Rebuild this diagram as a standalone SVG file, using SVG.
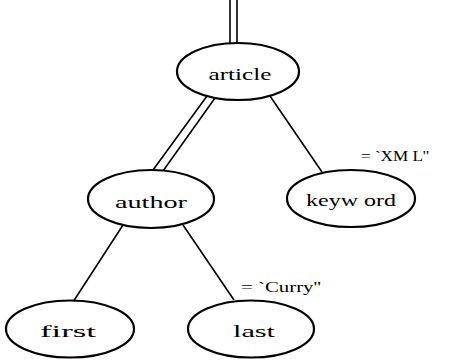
<svg xmlns="http://www.w3.org/2000/svg" width="450" height="360" viewBox="0 0 450 360">
  <style>
    .node ellipse { fill: #ffffff; stroke: #000000; stroke-width: 2.2; }
    .node text { font-family: "Liberation Serif", "DejaVu Serif", serif; font-size: 17px; fill: #000000; text-anchor: middle; }
    .edge line { stroke: #000000; stroke-width: 1.6; }
    .value { font-family: "Liberation Serif", "DejaVu Serif", serif; font-size: 15px; fill: #000000; }
  </style>

  <!-- tree edges -->
  <g id="edges" class="edge">
    <!-- incoming double edge into the root -->
    <line x1="230" y1="0" x2="230" y2="43"/>
    <line x1="237" y1="0" x2="237" y2="43"/>
    <!-- article to author (double) -->
    <line x1="207" y1="96" x2="153" y2="170"/>
    <line x1="215" y1="98" x2="163" y2="171"/>
    <!-- article to keyword -->
    <line x1="270" y1="96" x2="322" y2="172"/>
    <!-- author to first -->
    <line x1="123" y1="225" x2="73" y2="302"/>
    <!-- author to last -->
    <line x1="183" y1="225" x2="234" y2="300"/>
  </g>

  <g id="node-article" class="node">
    <ellipse cx="238" cy="71.5" rx="61" ry="28.5"/>
    <text x="240" y="80" textLength="63" lengthAdjust="spacingAndGlyphs">article</text>
  </g>

  <g id="node-author" class="node">
    <ellipse cx="151" cy="199" rx="63" ry="29"/>
    <text x="151" y="208" textLength="72" lengthAdjust="spacingAndGlyphs">author</text>
  </g>

  <g id="node-keyword" class="node">
    <ellipse cx="351" cy="198.5" rx="64" ry="28.5"/>
    <text x="351" y="206" textLength="90" lengthAdjust="spacingAndGlyphs">keyw ord</text>
  </g>

  <g id="node-first" class="node">
    <ellipse cx="70" cy="329" rx="64" ry="28.5"/>
    <text x="68" y="337" textLength="56" lengthAdjust="spacingAndGlyphs">first</text>
  </g>

  <g id="node-last" class="node">
    <ellipse cx="251" cy="329" rx="63" ry="28.5"/>
    <text x="254" y="337" textLength="42" lengthAdjust="spacingAndGlyphs">last</text>
  </g>

  <!-- attribute values -->
  <text id="value-keyword" class="value" x="361" y="161" textLength="68" lengthAdjust="spacingAndGlyphs">= `XM L''</text>
  <text id="value-last" class="value" x="241" y="292" textLength="80" lengthAdjust="spacingAndGlyphs">= `Curry''</text>
</svg>
